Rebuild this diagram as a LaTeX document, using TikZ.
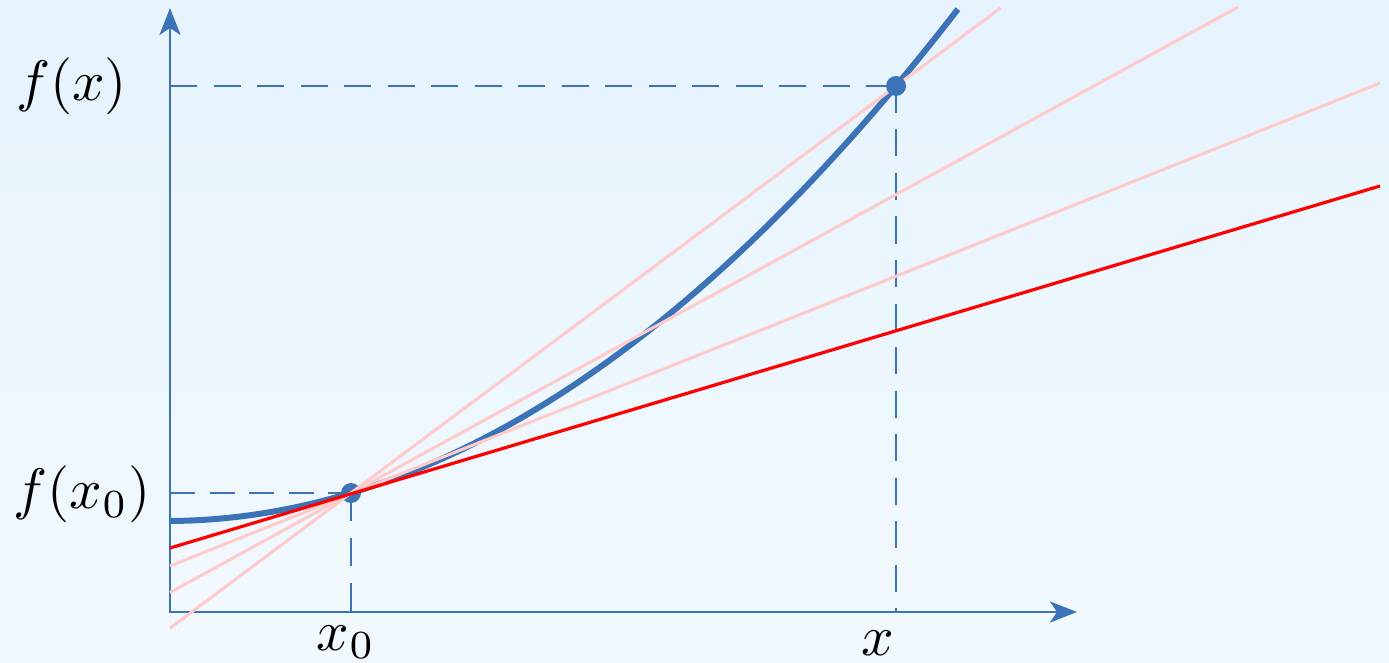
\documentclass[tikz,border=0pt]{standalone}
\usepackage{graphicx}
\usetikzlibrary{arrows.meta}
\definecolor{bgtop}{RGB}{230,243,253}
\definecolor{bgbot}{RGB}{242,249,254}
\definecolor{curveblue}{RGB}{60,115,182}
\definecolor{tanred}{RGB}{255,0,0}
\definecolor{secpink}{RGB}{255,202,202}
\newcommand{\biglbl}[1]{\scalebox{5.7}{#1}}
\tikzset{
  axisline/.style={draw=curveblue, line width=2.8pt},
  guide/.style={draw=curveblue, line width=2.8pt},
  curveline/.style={draw=curveblue, line width=6pt},
  tangentline/.style={draw=tanred, line width=3.2pt},
  secantline/.style={draw=secpink, line width=3pt},
  dotmark/.style={fill=curveblue},
  lbl/.style={inner sep=0pt},
  axtip/.tip={Stealth[length=27pt, width=21pt, inset=7pt]}
}
\begin{document}
\begin{tikzpicture}[x=1pt, y=-1pt]
\useasboundingbox (0,0) rectangle (1389,663);
\fill[top color=bgtop, bottom color=bgbot] (0,0) rectangle (1389,663);
\coordinate (O) at (170,612);
\coordinate (P0) at (351,493);
\coordinate (P1) at (896,86);
\coordinate (Ytop) at (170,8);
\coordinate (Xend) at (1077,612);
% axes
\draw[axisline, {axtip}-{axtip}] (Ytop) -- (O) -- (Xend);
% guides
\draw[guide, dash pattern=on 25pt off 14.5pt] (O |- P0) -- (P0);
\draw[guide, dash pattern=on 28pt off 17pt] (P0) -- (P0 |- O);
\draw[guide, dash pattern=on 27pt off 16.5pt] (O |- P1) -- (P1);
\draw[guide, dash pattern=on 27pt off 16.5pt] (P1) -- (P1 |- O);
% curve
\draw[curveline] plot[domain=0:7.88, samples=120, smooth] ({170+100*\x}, {612-91-0.708*\x-8.1556*\x*\x});
\fill[dotmark] (P0) circle (10);
% secants
\coordinate (S1a) at (170,628.2);
\coordinate (S1b) at (1000.5,8);
\coordinate (S2a) at (170,592.5);
\coordinate (S2b) at (1238,7);
\coordinate (S3a) at (170,566);
\coordinate (S3b) at (1380,83);
\draw[secantline] (S1a) -- (S1b);
\draw[secantline] (S2a) -- (S2b);
\draw[secantline] (S3a) -- (S3b);
% tangent
\coordinate (Ta) at (170,548);
\coordinate (Tb) at (1380,186);
\draw[tangentline] (Ta) -- (Tb);
\fill[dotmark] (P1) circle (10);
% labels
\node[lbl, anchor=base] (lfx) at (71.5,100.5) {\biglbl{$f(x)$}};
\node[lbl, anchor=base] (lfx0) at (82,508.5) {\biglbl{$f(x_0)$}};
\node[lbl, anchor=base] (lx0) at (346,650) {\biglbl{$x_0$}};
\node[lbl, anchor=base] (lx) at (878,655) {\biglbl{$x$}};
\end{tikzpicture}
\end{document}
